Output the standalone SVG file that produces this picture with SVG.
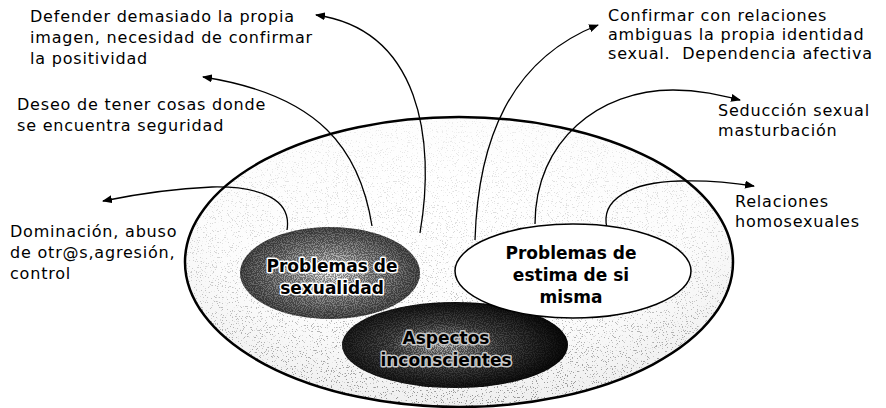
<svg xmlns="http://www.w3.org/2000/svg" width="886" height="408" viewBox="0 0 886 408">
  <defs>
    <style>
      .lbl { font-family: "DejaVu Sans", Verdana, sans-serif; font-size: 16px; letter-spacing: 0.8px; fill: #000; }
      .bold { font-family: "DejaVu Sans", Verdana, sans-serif; font-weight: bold; font-size: 17px; text-anchor: middle; fill: #000; }
      .halo { stroke: #fff; stroke-width: 3px; stroke-linejoin: round; paint-order: stroke; }
      .halo2 { stroke: #c8c8c8; stroke-width: 3px; stroke-linejoin: round; paint-order: stroke; }
      .conn { fill: none; stroke: #000; stroke-width: 1.3; marker-end: url(#arrow); }
    </style>
    <marker id="arrow" viewBox="0 0 10 8" refX="9" refY="4" markerWidth="10" markerHeight="8" markerUnits="userSpaceOnUse" orient="auto">
      <path d="M0,0 L10,4 L0,8 Z" fill="#000"/>
    </marker>
    <radialGradient id="gOuter" cx="0.48" cy="0.3" r="0.75">
      <stop offset="0" stop-color="#ffffff"/>
      <stop offset="0.6" stop-color="#fcfcfc"/>
      <stop offset="1" stop-color="#ececec"/>
    </radialGradient>
    <linearGradient id="gMask" x1="0" y1="0" x2="0" y2="1">
      <stop offset="0" stop-color="#fff" stop-opacity="0.15"/>
      <stop offset="0.5" stop-color="#fff" stop-opacity="0.4"/>
      <stop offset="1" stop-color="#fff" stop-opacity="1"/>
    </linearGradient>
    <mask id="mOuter" maskUnits="userSpaceOnUse" x="0" y="0" width="886" height="408">
      <rect x="180" y="110" width="560" height="300" fill="url(#gMask)"/>
    </mask>
    <radialGradient id="gSex" cx="0.5" cy="0.5" r="0.55">
      <stop offset="0" stop-color="#f2f2f2"/>
      <stop offset="0.45" stop-color="#9a9a9a"/>
      <stop offset="1" stop-color="#464646"/>
    </radialGradient>
    <radialGradient id="gInc" cx="0.45" cy="0.5" r="0.55">
      <stop offset="0" stop-color="#bdbdbd"/>
      <stop offset="0.45" stop-color="#4a4a4a"/>
      <stop offset="1" stop-color="#0a0a0a"/>
    </radialGradient>
    <filter id="speck" x="0" y="0" width="1" height="1">
      <feTurbulence type="fractalNoise" baseFrequency="0.9" numOctaves="1" seed="3" result="n"/>
      <feColorMatrix in="n" type="matrix" values="0 0 0 0 0  0 0 0 0 0  0 0 0 0 0  0 0 0 -9 5.2" result="dots"/>
      <feComposite in="dots" in2="SourceGraphic" operator="in"/>
    </filter>
    <filter id="sparse" x="0" y="0" width="1" height="1">
      <feTurbulence type="fractalNoise" baseFrequency="0.8" numOctaves="2" seed="7" result="n"/>
      <feColorMatrix in="n" type="matrix" values="0 0 0 0 0  0 0 0 0 0  0 0 0 0 0  -16 0 0 0 5.9" result="dots"/>
      <feComposite in="dots" in2="SourceGraphic" operator="in"/>
    </filter>
  </defs>

  <g id="node-outer">
    <ellipse cx="459" cy="262" rx="274" ry="145" fill="url(#gOuter)"/>
    <g mask="url(#mOuter)">
      <ellipse cx="459" cy="262" rx="274" ry="145" fill="#000" opacity="0.4" filter="url(#sparse)"/>
    </g>
    <ellipse cx="459" cy="262" rx="274" ry="145" fill="none" stroke="#000" stroke-width="2.5"/>
  </g>

  <g id="connectors">
    <path class="conn" d="M287 230 C292 200 262 186 212 187 C165 189 132 195 103 201"/>
    <path class="conn" d="M372 226 C360 150 320 95 203 77"/>
    <path class="conn" d="M420 233 C436 140 420 30 316 15"/>
    <path class="conn" d="M475 240 C478 140 510 60 598 25"/>
    <path class="conn" d="M535 224 C535 140 600 90 673 90 C700 90 720 95 740 100"/>
    <path class="conn" d="M607 228 C600 200 630 182 680 181 C710 180 735 183 754 186"/>
  </g>

  <g id="node-inconscientes">
    <ellipse cx="455" cy="345" rx="113" ry="43" fill="url(#gInc)"/>
    <ellipse cx="455" cy="345" rx="113" ry="43" fill="#000" opacity="0.45" filter="url(#speck)"/>
    <text class="bold halo2" x="446" y="344">Aspectos</text>
    <text class="bold halo2" x="446" y="366">inconscientes</text>
  </g>

  <g id="node-sexualidad">
    <ellipse cx="330" cy="273" rx="90" ry="46" fill="url(#gSex)"/>
    <ellipse cx="330" cy="273" rx="90" ry="46" fill="#000" opacity="0.4" filter="url(#speck)"/>
    <text class="bold halo" x="332" y="272">Problemas de</text>
    <text class="bold halo" x="332" y="294">sexualidad</text>
  </g>

  <g id="node-estima">
    <ellipse cx="573" cy="271" rx="118" ry="47" fill="#fff" stroke="#000" stroke-width="1.5"/>
    <text class="bold" x="571" y="259">Problemas de</text>
    <text class="bold" x="571" y="281">estima de si</text>
    <text class="bold" x="571" y="303">misma</text>
  </g>

  <g id="label-defender">
    <text class="lbl" x="30" y="22">Defender demasiado la propia</text>
    <text class="lbl" x="30" y="43">imagen, necesidad de confirmar</text>
    <text class="lbl" x="30" y="64">la positividad</text>
  </g>
  <g id="label-deseo">
    <text class="lbl" x="17" y="110">Deseo de tener cosas donde</text>
    <text class="lbl" x="17" y="131">se encuentra seguridad</text>
  </g>
  <g id="label-dominacion">
    <text class="lbl" x="10" y="237">Dominación, abuso</text>
    <text class="lbl" x="10" y="258">de otr@s,agresión,</text>
    <text class="lbl" x="10" y="279">control</text>
  </g>
  <g id="label-confirmar">
    <text class="lbl" x="608" y="21">Confirmar con relaciones</text>
    <text class="lbl" x="608" y="40">ambiguas la propia identidad</text>
    <text class="lbl" x="608" y="59" xml:space="preserve">sexual.  Dependencia afectiva</text>
  </g>
  <g id="label-seduccion">
    <text class="lbl" x="718" y="116">Seducción sexual</text>
    <text class="lbl" x="718" y="136">masturbación</text>
  </g>
  <g id="label-relaciones">
    <text class="lbl" x="735" y="207">Relaciones</text>
    <text class="lbl" x="735" y="227">homosexuales</text>
  </g>
</svg>
